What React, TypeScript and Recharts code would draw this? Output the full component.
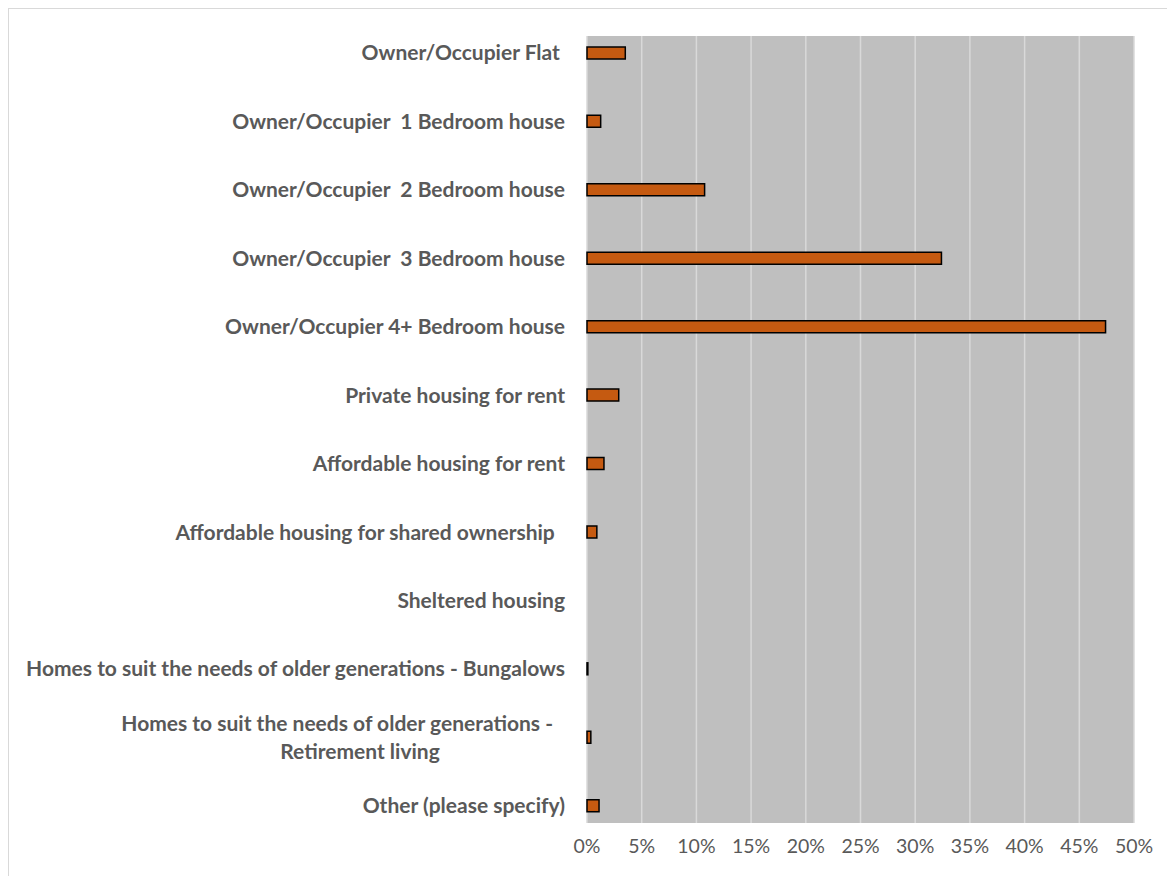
import React from "react";
import { BarChart, Bar, XAxis, YAxis, CartesianGrid } from "recharts";

const categories = [
  "Owner/Occupier Flat ",
  "Owner/Occupier  1 Bedroom house",
  "Owner/Occupier  2 Bedroom house",
  "Owner/Occupier  3 Bedroom house",
  "Owner/Occupier 4+ Bedroom house",
  "Private housing for rent",
  "Affordable housing for rent",
  "Affordable housing for shared ownership  ",
  "Sheltered housing",
  "Homes to suit the needs of older generations - Bungalows",
  "Homes to suit the needs of older generations - Retirement living",
  "Other (please specify)",
];

const shares = [3.5, 1.25, 10.75, 32.4, 47.4, 2.9, 1.55, 0.9, 0, 0.08, 0.35, 1.1];

const xTicks = [0, 5, 10, 15, 20, 25, 30, 35, 40, 45, 50];

const data = categories.map((name, i) => ({ idx: i, name, value: shares[i] }));

const TEXT = "#595959";
const FONT = "Lato, 'Open Sans', sans-serif";
const LABEL_SIZE = 21;

function CategoryTick({ x, y, payload }: any) {
  const label = categories[payload.value] ?? "";
  // the long retirement label wraps onto two lines
  if (label.startsWith("Homes to suit") && label.endsWith("Retirement living")) {
    return (
      <g>
        <text x={x - 12} y={y - 14} dy="0.35em" textAnchor="end" fill={TEXT}
          fontSize={LABEL_SIZE} fontWeight={700} fontFamily={FONT} style={{ whiteSpace: "pre" }}>
          Homes to suit the needs of older generations -
        </text>
        <text x={x - 205} y={y + 14} dy="0.35em" textAnchor="middle" fill={TEXT}
          fontSize={LABEL_SIZE} fontWeight={700} fontFamily={FONT}>
          Retirement living
        </text>
      </g>
    );
  }
  return (
    <text x={x} y={y} dy="0.35em" textAnchor="end" fill={TEXT}
      fontSize={LABEL_SIZE} fontWeight={700} fontFamily={FONT} style={{ whiteSpace: "pre" }}>
      {label}
    </text>
  );
}

export default function App() {
  return (
    <div
      style={{
        width: 1166,
        height: 867,
        borderTop: "1px solid #d9d9d9",
        borderLeft: "1px solid #d9d9d9",
        background: "#fff",
      }}
    >
      <BarChart
        width={1166}
        height={867}
        layout="vertical"
        data={data}
        margin={{ top: 27, right: 41, bottom: 23, left: 0 }}
      >
        <CartesianGrid
          horizontal={false}
          stroke="#d9d9d9"
          strokeWidth={1.5}
          fill="#bfbfbf"
          fillOpacity={1}
        />
        <XAxis
          type="number"
          domain={[0, 50]}
          ticks={xTicks}
          tickFormatter={(v) => `${v}%`}
          axisLine={false}
          tickLine={false}
          height={30}
          tickMargin={10}
          tick={{ fill: TEXT, fontSize: 19.5, fontFamily: FONT }}
        />
        <YAxis
          type="number"
          dataKey="idx"
          domain={[-0.25, 11.25]}
          ticks={categories.map((_, i) => i)}
          width={578}
          axisLine={false}
          tickLine={false}
          tickMargin={16}
          tick={<CategoryTick />}
          interval={0}
        />
        <Bar
          dataKey="value"
          fill="#c55a11"
          stroke="#000"
          strokeWidth={1.5}
          barSize={12}
          isAnimationActive={false}
        />
      </BarChart>
    </div>
  );
}
